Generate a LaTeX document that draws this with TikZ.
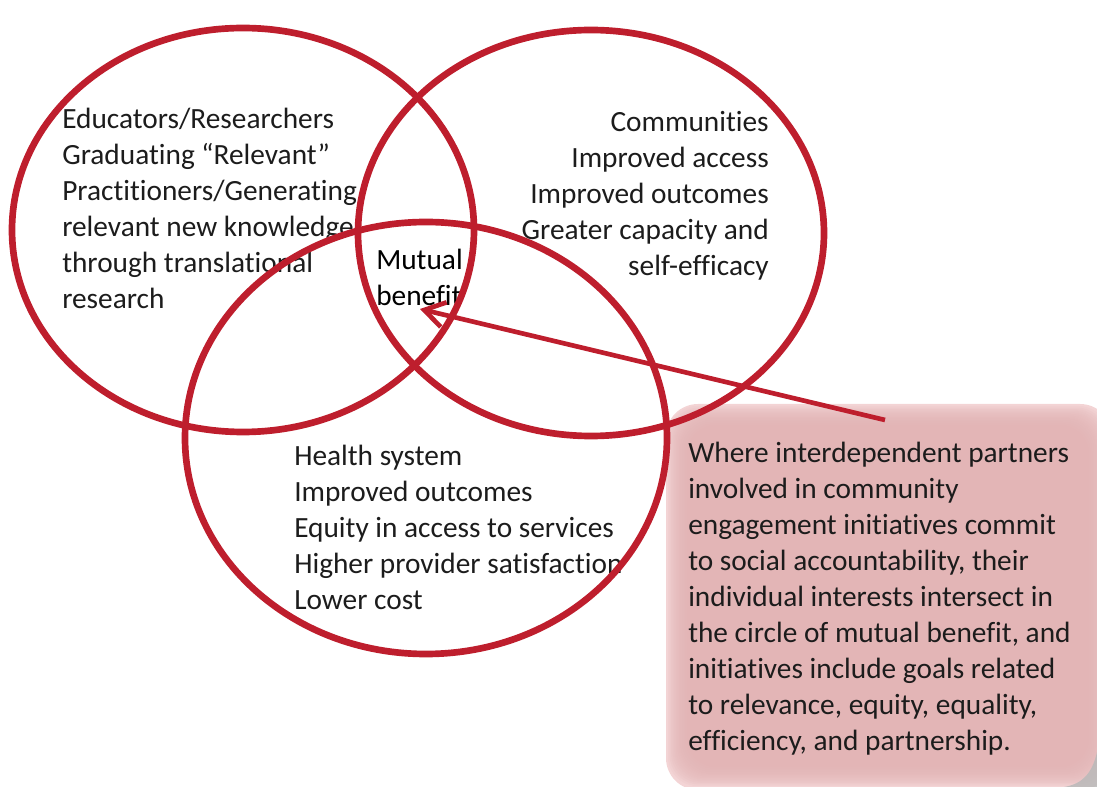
\documentclass[tikz,border=0pt]{standalone}
\usepackage{fontspec}
\setmainfont{Carlito}[Ligatures=NoCommon]
\usetikzlibrary{arrows.meta}
\definecolor{ringred}{RGB}{190,30,45}
\definecolor{boxpink}{RGB}{227,181,182}
\definecolor{rimpink}{RGB}{243,212,213}
\definecolor{txt}{RGB}{28,28,28}

\begin{document}
\begin{tikzpicture}[x=0.75pt,y=-0.75pt,
  ring/.style={draw=ringred,line width=5pt},
  blocktext/.style={font=\fontsize{22}{27}\selectfont,text=txt,inner sep=0pt},
  pointer/.style={draw=ringred,line width=3.5pt,
    -{Straight Barb[length=15pt,width=19pt,line width=3.5pt]}}]
\useasboundingbox (0,0) rectangle (1097,787);

% callout panel with a soft rim, running off the right edge
\begin{scope}
  \clip (0,0) rectangle (1097,787);
  \fill[rimpink,rounded corners=24pt] (666,404) rectangle (1112,790);
  \foreach \i in {0,...,14}
    \fill[boxpink,opacity=0.16,rounded corners=22pt]
      ({668+1.6*\i},{406+1.6*\i}) rectangle ({1108-1.6*\i},{786-1.6*\i});
  \fill[gray!55,opacity=0.85] (1097,752) .. controls (1092,774) and (1082,784) .. (1064,787) -- (1097,787) -- cycle;
\end{scope}

% texts of the three partners
\node[blocktext,anchor=north west,align=left] (edu) at (62,103)
  {\strut Educators/Researchers\\Graduating “Relevant”\\Practitioners/Generating\\relevant new knowledge\\through translational\\research};
\node[blocktext,anchor=north east,align=right] (com) at (769,106)
  {\strut Communities\\Improved access\\Improved outcomes\\Greater capacity and\\self-efficacy};
\node[blocktext,anchor=north west,align=left] (hs) at (294,440)
  {\strut Health system\\Improved outcomes\\Equity in access to services\\Higher provider satisfaction\\Lower cost};
\node[blocktext,anchor=north west,align=left,text=black] (mb) at (376,244)
  {\strut Mutual\\benefit};

% the three interest circles
\draw[ring] (243,230) ellipse [x radius=231, y radius=202];
\draw[ring] (591,233) ellipse [x radius=233, y radius=203];
\draw[ring] (426,438) ellipse [x radius=241, y radius=216];

% explanation
\node[blocktext,anchor=north west,align=left] (note) at (688,437)
  {\strut Where interdependent partners\\involved in community\\engagement initiatives commit\\to social accountability, their\\individual interests intersect in\\the circle of mutual benefit, and\\initiatives include goals related\\to relevance, equity, equality,\\efficiency, and partnership.};

\coordinate (tail) at (885,420);
\coordinate (tip) at (420,309);
\draw[pointer] (tail) -- (tip);
\end{tikzpicture}
\end{document}
